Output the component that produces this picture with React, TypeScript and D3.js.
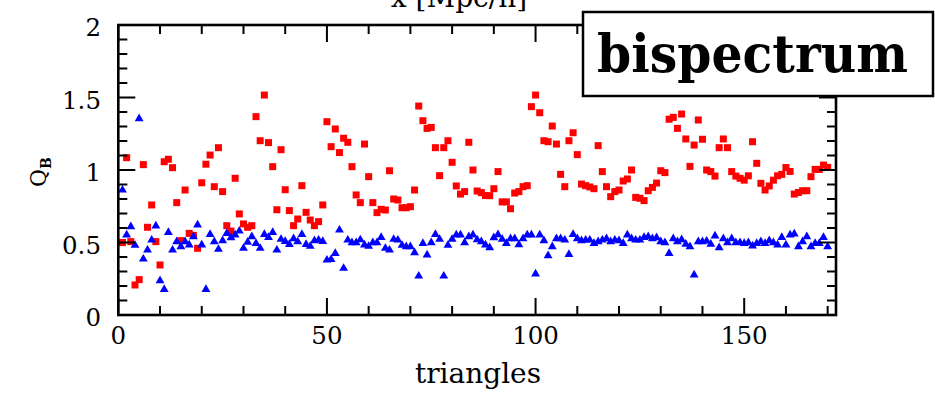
import React from 'react';
import * as d3 from 'd3';

// Q_B values per triangle configuration (index 1..170)
const redSeries: number[] = [
  0.50, 1.085, 0.506, 0.207, 0.244, 1.037, 0.605, 0.759, 0.506, 0.345,
  1.057, 1.074, 1.016, 0.775, 0.513, 0.862, 0.563, 0.549, 0.46, 0.912,
  1.04, 1.103, 0.885, 1.154, 0.851, 0.616, 0.579, 0.943, 0.697, 0.628,
  0.605, 0.616, 1.368, 1.202, 1.517, 1.189, 1.023, 0.726, 1.14, 0.864,
  0.72, 0.616, 0.662, 0.892, 0.708, 0.655, 0.616, 0.644, 0.759, 1.333,
  1.161, 1.283, 1.12, 1.219, 1.191, 1.023, 0.828, 0.775, 1.179, 0.954,
  0.775, 0.706, 0.729, 0.724, 0.995, 0.80, 0.793, 0.740, 0.740, 0.747,
  0.862, 1.441, 1.34, 1.287, 1.294, 1.154, 0.961, 1.154, 1.202, 1.053,
  0.89, 0.834, 0.851, 1.191, 1.0, 0.855, 0.844, 0.824, 0.823, 0.871,
  0.989, 0.78, 0.78, 0.733, 0.841, 0.851, 0.885, 0.892, 1.437, 1.517,
  1.395, 1.202, 1.195, 1.303, 1.179, 0.97, 0.885, 1.202, 1.257, 1.106,
  0.903, 0.892, 0.883, 0.871, 1.168, 0.989, 0.885, 0.816, 0.851, 0.862,
  0.924, 0.938, 1.0, 0.811, 0.805, 0.789, 0.857, 0.88, 0.91, 0.995,
  0.982, 1.35, 1.363, 1.287, 1.386, 1.214, 1.025, 1.172, 1.345, 1.212,
  1.0, 0.989, 0.958, 1.154, 1.214, 1.154, 0.989, 0.958, 0.943, 0.93,
  0.96, 1.195, 1.046, 0.908, 0.862, 0.89, 0.93, 0.96, 0.97, 1.017,
  0.99, 0.834, 0.845, 0.857, 0.857, 0.954, 1.004, 1.004, 1.034, 1.018,
];

const blueSeries: number[] = [
  0.862, 0.552, 0.609, 0.481, 1.354, 0.386, 0.448, 0.517, 0.614, 0.237,
  0.177, 0.570, 0.448, 0.506, 0.471, 0.506, 0.483, 0.540, 0.621, 0.483,
  0.177, 0.556, 0.506, 0.453, 0.513, 0.563, 0.533, 0.552, 0.579, 0.46,
  0.502, 0.540, 0.494, 0.46, 0.556, 0.535, 0.570, 0.448, 0.522, 0.508,
  0.487, 0.526, 0.506, 0.556, 0.487, 0.474, 0.513, 0.517, 0.508, 0.379,
  0.384, 0.425, 0.586, 0.322, 0.517, 0.499, 0.499, 0.519, 0.483, 0.474,
  0.499, 0.499, 0.535, 0.46, 0.448, 0.522, 0.517, 0.481, 0.471, 0.471,
  0.43, 0.269, 0.494, 0.414, 0.499, 0.556, 0.522, 0.269, 0.481, 0.522,
  0.552, 0.552, 0.499, 0.540, 0.552, 0.519, 0.506, 0.483, 0.465, 0.533,
  0.554, 0.522, 0.494, 0.526, 0.526, 0.485, 0.526, 0.552, 0.552, 0.283,
  0.552, 0.513, 0.409, 0.471, 0.526, 0.526, 0.517, 0.418, 0.556, 0.526,
  0.513, 0.517, 0.517, 0.494, 0.506, 0.517, 0.526, 0.506, 0.517, 0.513,
  0.494, 0.552, 0.526, 0.517, 0.517, 0.535, 0.540, 0.526, 0.533, 0.506,
  0.499, 0.425, 0.526, 0.506, 0.52, 0.489, 0.471, 0.276, 0.506, 0.506,
  0.51, 0.489, 0.545, 0.465, 0.526, 0.499, 0.526, 0.499, 0.50, 0.494,
  0.499, 0.476, 0.494, 0.506, 0.494, 0.513, 0.499, 0.483, 0.535, 0.483,
  0.552, 0.559, 0.471, 0.506, 0.54, 0.471, 0.494, 0.494, 0.535, 0.471,
];

const xMajorTicks = [0, 50, 100, 150];
const xMinorTicks = [10, 20, 30, 40, 60, 70, 80, 90, 110, 120, 130, 140, 160, 170];
const yMajorTicks = [0, 0.5, 1, 1.5, 2];
const yTickLabels = ['0', '0.5', '1', '1.5', '2'];
const yMinorTicks = [0.1, 0.2, 0.3, 0.4, 0.6, 0.7, 0.8, 0.9, 1.1, 1.2, 1.3, 1.4, 1.6, 1.7, 1.8, 1.9];

const W = 935;
const H = 393;
const L = 118.3, R = 836, T = 25, B = 315;
const FONT = "'DejaVu Serif', serif";

export default function App() {
  const x = d3.scaleLinear().domain([0, 172]).range([L, R]);
  const y = d3.scaleLinear().domain([0, 2]).range([B, T]);
  const tri = d3.symbol().type(d3.symbolTriangle).size(34)()!;
  const sq = 7;
  const major = 17, minor = 9;

  return (
    <svg width={W} height={H} style={{ position: 'absolute', left: 0, top: 0, background: '#fff' }}>
      <rect x={0} y={0} width={W} height={H} fill="#fff" />
      {/* cut-off label of the panel above */}
      <text x={459} y={7} fontFamily={FONT} fontSize={28} textAnchor="middle">x [Mpc/h]</text>

      {/* data */}
      <g>
        {redSeries.map((v, i) => (
          <rect key={'r' + i} x={x(i + 1) - sq / 2} y={y(v) - sq / 2} width={sq} height={sq} fill="#ff0000" />
        ))}
      </g>
      <g>
        {blueSeries.map((v, i) => (
          <path key={'b' + i} d={tri} transform={`translate(${x(i + 1)},${y(v)})`} fill="#0000ff" />
        ))}
      </g>

      {/* ticks */}
      <g stroke="#000" strokeWidth={2}>
        {xMajorTicks.map((t) => (
          <g key={'xm' + t}>
            <line x1={x(t)} x2={x(t)} y1={B} y2={B - major} />
            <line x1={x(t)} x2={x(t)} y1={T} y2={T + major} />
          </g>
        ))}
        {xMinorTicks.map((t) => (
          <g key={'xn' + t}>
            <line x1={x(t)} x2={x(t)} y1={B} y2={B - minor} />
            <line x1={x(t)} x2={x(t)} y1={T} y2={T + minor} />
          </g>
        ))}
        {yMajorTicks.map((t) => (
          <g key={'ym' + t}>
            <line x1={L} x2={L + major} y1={y(t)} y2={y(t)} />
            <line x1={R} x2={R - major} y1={y(t)} y2={y(t)} />
          </g>
        ))}
        {yMinorTicks.map((t) => (
          <g key={'yn' + t}>
            <line x1={L} x2={L + minor} y1={y(t)} y2={y(t)} />
            <line x1={R} x2={R - minor} y1={y(t)} y2={y(t)} />
          </g>
        ))}
      </g>
      <rect x={L} y={T} width={R - L} height={B - T} fill="none" stroke="#000" strokeWidth={2.6} />

      {/* tick labels */}
      <g fontFamily={FONT} fontSize={24.5} fill="#000">
        {xMajorTicks.map((t) => (
          <text key={'xl' + t} x={x(t)} y={344} textAnchor="middle">{t}</text>
        ))}
        {yMajorTicks.map((t, i) => (
          <text key={'yl' + t} x={101} y={y(t) + 11} textAnchor="end">{yTickLabels[i]}</text>
        ))}
      </g>

      {/* axis labels */}
      <text x={478} y={383} fontFamily={FONT} fontSize={28} textAnchor="middle">triangles</text>
      <text transform={`translate(46,172) rotate(-90)`} fontFamily={FONT} fontSize={22} textAnchor="middle">
        Q<tspan fontSize={14} fontWeight="bold" dy={5}>B</tspan>
      </text>

      {/* label box */}
      <rect x={583} y={12} width={350} height={84} fill="#fff" stroke="#000" strokeWidth={2.5} />
      <text x={597} y={72} fontFamily={FONT} fontWeight="bold" fontSize={52} textLength={311} lengthAdjust="spacingAndGlyphs">bispectrum</text>
    </svg>
  );
}
